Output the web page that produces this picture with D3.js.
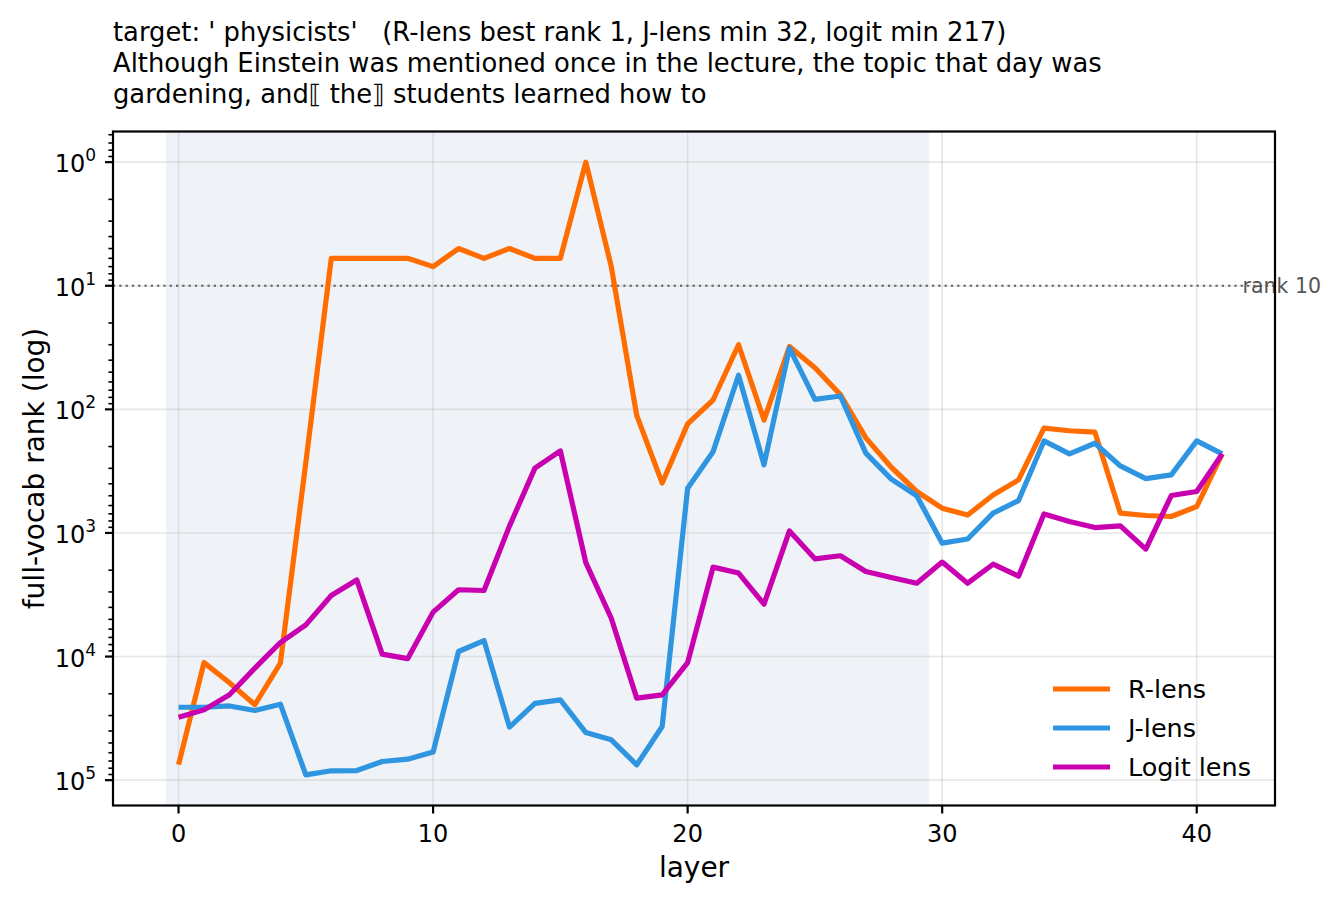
<!DOCTYPE html>
<html>
<head>
<meta charset="utf-8">
<script src="https://cdn.jsdelivr.net/npm/d3@7"></script>
<style>
  body { margin: 0; background: #fff; }
  text { font-family: "DejaVu Sans", sans-serif; }
</style>
</head>
<body>
<div id="chart"></div>
<script>
// layer index and ranks
const layers = d3.range(0, 42);

const rLens = [75000, 11200, 16300, 24500, 11300, 270, 6, 6, 6, 6, 7, 5, 6, 5, 6, 6, 1, 7, 112, 395,
    131, 84, 30, 122, 31, 46, 76, 170, 294, 462, 630, 716, 493, 372, 142, 149, 153, 692, 722, 736, 611, 229];

const jLens = [25700, 25700, 25100, 27300, 24300, 90600, 84000, 83600, 70600, 67600, 59300, 9100, 7420,
    37200, 23900, 22400, 41200, 47200, 75200, 36800, 434, 220, 53, 281, 32, 83, 78, 226, 367, 500, 1210,
    1120, 692, 547, 180, 229, 188, 287, 363, 339, 180, 229];

const logitLens = [31000, 27000, 20400, 12400, 7700, 5540, 3210, 2400, 9560, 10400, 4370, 2880, 2920, 880,
    299, 217, 1740, 4900, 21700, 20400, 11200, 1890, 2110, 3770, 962, 1620, 1530, 2050, 2290, 2550, 1720,
    2550, 1790, 2240, 701, 809, 904, 877, 1350, 498, 462, 229];

const seriesNames = ["R-lens", "J-lens", "Logit lens"];
const seriesColors = ["#ff6d00", "#2f95e0", "#c800b0"];

const xTicks = [0, 10, 20, 30, 40];
const yExponents = [0, 1, 2, 3, 4, 5];

const titleLines = [
    "target: ' physicists'   (R-lens best rank 1, J-lens min 32, logit min 217)",
    "Although Einstein was mentioned once in the lecture, the topic that day was",
    "gardening, and\u27E6 the\u27E7 students learned how to"
];

const spanRange = [-0.5, 29.5];
const rankLine = 10;

const W = 1339, H = 901;
const margin = {top: 131.5, right: 64, bottom: 95.5, left: 113};

const svg = d3.select("#chart").append("svg")
    .attr("width", W)
    .attr("height", H);

// x domain padded like matplotlib (5% of -0.5..41)
const x = d3.scaleLinear()
    .domain([-2.575, 43.075])
    .range([margin.left, W - margin.right]);

const y = d3.scaleLog()
    .domain([Math.pow(10, -0.248), Math.pow(10, 5.205)])
    .range([margin.top, H - margin.bottom]);

const plotL = x.range()[0], plotR = x.range()[1];
const plotT = y.range()[0], plotB = y.range()[1];

svg.append("clipPath").attr("id", "clip")
    .append("rect")
    .attr("x", plotL).attr("y", plotT)
    .attr("width", plotR - plotL).attr("height", plotB - plotT);

// shaded layer span
svg.append("rect")
    .attr("x", x(spanRange[0]))
    .attr("y", plotT)
    .attr("width", x(spanRange[1]) - x(spanRange[0]))
    .attr("height", plotB - plotT)
    .attr("fill", "#eff3f8");

// grid
const grid = svg.append("g").attr("stroke", "#b0b0b0").attr("stroke-opacity", 0.3).attr("stroke-width", 1.6);
grid.selectAll(".gx").data(xTicks).enter().append("line")
    .attr("x1", d => x(d)).attr("x2", d => x(d))
    .attr("y1", plotT).attr("y2", plotB);
grid.selectAll(".gy").data(yExponents).enter().append("line")
    .attr("x1", plotL).attr("x2", plotR)
    .attr("y1", d => y(Math.pow(10, d))).attr("y2", d => y(Math.pow(10, d)));

// rank 10 reference
svg.append("line")
    .attr("x1", plotL).attr("x2", plotR)
    .attr("y1", y(rankLine)).attr("y2", y(rankLine))
    .attr("stroke", "#444")
    .attr("stroke-opacity", 0.85)
    .attr("stroke-width", 2.2)
    .attr("stroke-dasharray", "2.2,4.1");

// lines
const line = d3.line()
    .x((d, i) => x(layers[i]))
    .y(d => y(d));

const allSeries = [rLens, jLens, logitLens];
svg.append("g").attr("clip-path", "url(#clip)")
    .selectAll("path")
    .data(allSeries)
    .enter()
    .append("path")
    .attr("d", line)
    .attr("fill", "none")
    .attr("stroke", (d, i) => seriesColors[i])
    .attr("stroke-width", 5.2)
    .attr("stroke-linejoin", "round");

svg.append("text")
    .attr("x", x(41.8))
    .attr("y", y(rankLine))
    .attr("dominant-baseline", "central")
    .attr("font-size", "20.5px")
    .attr("fill", "#555")
    .text("rank 10");

// axes frame
svg.append("rect")
    .attr("x", plotL).attr("y", plotT)
    .attr("width", plotR - plotL).attr("height", plotB - plotT)
    .attr("fill", "none")
    .attr("stroke", "#000")
    .attr("stroke-width", 2.2);

// x ticks
const xt = svg.append("g");
xt.selectAll("line").data(xTicks).enter().append("line")
    .attr("x1", d => x(d)).attr("x2", d => x(d))
    .attr("y1", plotB).attr("y2", plotB + 8)
    .attr("stroke", "#000").attr("stroke-width", 2.2);
xt.selectAll("text").data(xTicks).enter().append("text")
    .attr("x", d => x(d))
    .attr("y", 842)
    .attr("text-anchor", "middle")
    .attr("font-size", "24px")
    .text(d => d);

// y ticks, major and minor
const minor = [];
for (let e = -1; e <= 5; e++) {
    for (let m = 2; m <= 9; m++) {
        const v = m * Math.pow(10, e);
        if (v >= y.domain()[0] && v <= y.domain()[1]) minor.push(v);
    }
}
const yt = svg.append("g");
yt.selectAll(".minor").data(minor).enter().append("line")
    .attr("x1", plotL - 4.6).attr("x2", plotL)
    .attr("y1", d => y(d)).attr("y2", d => y(d))
    .attr("stroke", "#000").attr("stroke-width", 1.6);
yt.selectAll(".major").data(yExponents).enter().append("line")
    .attr("x1", plotL - 8).attr("x2", plotL)
    .attr("y1", d => y(Math.pow(10, d))).attr("y2", d => y(Math.pow(10, d)))
    .attr("stroke", "#000").attr("stroke-width", 2.2);
const ylab = yt.selectAll("text").data(yExponents).enter().append("text")
    .attr("x", 96)
    .attr("y", d => y(Math.pow(10, d)) + 10)
    .attr("text-anchor", "end")
    .attr("font-size", "24px");
ylab.append("tspan").text("10");
ylab.append("tspan")
    .attr("dy", -11)
    .attr("font-size", "17px")
    .text(d => d);

// axis labels
svg.append("text")
    .attr("x", (plotL + plotR) / 2)
    .attr("y", 877)
    .attr("text-anchor", "middle")
    .attr("font-size", "28px")
    .text("layer");

svg.append("text")
    .attr("transform", "translate(44," + ((plotT + plotB) / 2) + ") rotate(-90)")
    .attr("text-anchor", "middle")
    .attr("font-size", "28px")
    .text("full-vocab rank (log)");

// title
svg.append("g").selectAll("text")
    .data(titleLines)
    .enter()
    .append("text")
    .attr("x", plotL)
    .attr("y", (d, i) => 41 + i * 31)
    .attr("font-size", "25.8px")
    .style("white-space", "pre")
    .text(d => d);

// legend, no frame
const leg = svg.append("g");
seriesNames.forEach((name, i) => {
    const ly = 689 + i * 39;
    leg.append("line")
        .attr("x1", 1053).attr("x2", 1110)
        .attr("y1", ly).attr("y2", ly)
        .attr("stroke", seriesColors[i])
        .attr("stroke-width", 5.2);
    leg.append("text")
        .attr("x", 1128)
        .attr("y", ly)
        .attr("dominant-baseline", "central")
        .attr("font-size", "25.5px")
        .text(name);
});
</script>
</body>
</html>
